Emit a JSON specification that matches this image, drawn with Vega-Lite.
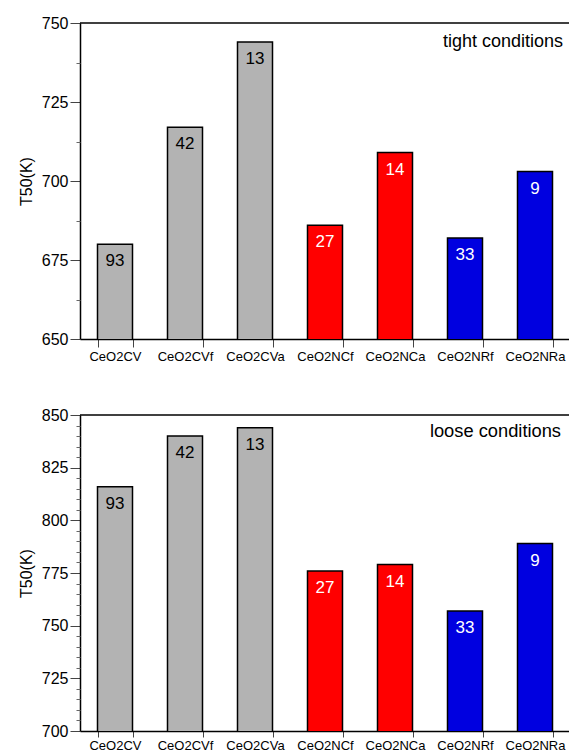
{
  "$schema": "https://vega.github.io/schema/vega-lite/v6.json",
  "padding": {"left": 18, "top": 15, "right": 0, "bottom": 0},
  "spacing": 44,
  "config": {
    "view": {"stroke": null},
    "font": "Liberation Sans",
    "axis": {"grid": false, "domainColor": "#000000", "domainWidth": 1.5, "tickColor": "#444444", "labelColor": "#000000", "titleColor": "#000000", "labelFont": "Liberation Sans", "titleFont": "Liberation Sans", "titleFontWeight": "normal"},
    "text": {"font": "Liberation Sans", "fontWeight": "normal"}
  },
  "data": {
    "values": [
      {"panel": "tight", "name": "CeO2CV", "group": "CV", "T50": 680, "n": 93},
      {"panel": "tight", "name": "CeO2CVf", "group": "CV", "T50": 717, "n": 42},
      {"panel": "tight", "name": "CeO2CVa", "group": "CV", "T50": 744, "n": 13},
      {"panel": "tight", "name": "CeO2NCf", "group": "NC", "T50": 686, "n": 27},
      {"panel": "tight", "name": "CeO2NCa", "group": "NC", "T50": 709, "n": 14},
      {"panel": "tight", "name": "CeO2NRf", "group": "NR", "T50": 682, "n": 33},
      {"panel": "tight", "name": "CeO2NRa", "group": "NR", "T50": 703, "n": 9},
      {"panel": "loose", "name": "CeO2CV", "group": "CV", "T50": 816, "n": 93},
      {"panel": "loose", "name": "CeO2CVf", "group": "CV", "T50": 840, "n": 42},
      {"panel": "loose", "name": "CeO2CVa", "group": "CV", "T50": 844, "n": 13},
      {"panel": "loose", "name": "CeO2NCf", "group": "NC", "T50": 776, "n": 27},
      {"panel": "loose", "name": "CeO2NCa", "group": "NC", "T50": 779, "n": 14},
      {"panel": "loose", "name": "CeO2NRf", "group": "NR", "T50": 757, "n": 33},
      {"panel": "loose", "name": "CeO2NRa", "group": "NR", "T50": 789, "n": 9}
    ]
  },
  "vconcat": [
    {
      "width": 490,
      "height": 316,
      "transform": [{"filter": "datum.panel === 'tight'"}],
      "resolve": {"axis": {"y": "independent"}},
      "layer": [
        {
          "mark": {"type": "bar", "stroke": "#000000", "strokeWidth": 1.5, "clip": true},
          "encoding": {
            "x": {"field": "name", "type": "nominal", "sort": null, "title": null,
                  "scale": {"paddingInner": 0.5, "paddingOuter": 0.25},
                  "axis": {"labelAngle": 0, "labelFontSize": 13, "tickBand": "extent", "tickSize": 8, "labelPadding": 3, "tickColor": "#444444"}},
            "y": {"field": "T50", "type": "quantitative", "title": "T50(K)",
                  "scale": {"domain": [650, 750], "nice": false, "zero": false},
                  "axis": {"values": [650, 675, 700, 725, 750], "tickSize": 10, "labelFontSize": 16, "labelPadding": 2, "titleFontSize": 16, "titlePadding": 7, "domain": true}},
            "color": {"field": "group", "type": "nominal", "legend": null,
                      "scale": {"domain": ["CV", "NC", "NR"], "range": ["#b3b3b3", "#ff0000", "#0000e0"]}}
          }
        },
        {
          "mark": {"type": "text", "baseline": "top", "dy": 9, "fontSize": 17, "fontWeight": "normal"},
          "encoding": {
            "x": {"field": "name", "type": "nominal", "sort": null},
            "y": {"field": "T50", "type": "quantitative", "axis": null},
            "text": {"field": "n", "type": "quantitative"},
            "color": {"condition": {"test": "datum.group === 'CV'", "value": "#000000"}, "value": "#ffffff"}
          }
        },
        {
          "data": {"values": [{"label": "tight conditions"}]},
          "mark": {"type": "rule", "color": "#000000", "strokeWidth": 1.5},
          "encoding": {
            "y": {"datum": 750, "type": "quantitative",
                  "axis": {"orient": "left", "values": [662.5, 687.5, 712.5, 737.5], "labels": false, "domain": false, "tickSize": 4, "title": null, "tickColor": "#666666"}}
          }
        },
        {
          "data": {"values": [{"label": "tight conditions"}]},
          "mark": {"type": "text", "align": "right", "baseline": "alphabetic", "dx": -7, "dy": 24, "fontSize": 18, "fontWeight": "normal"},
          "encoding": {
            "x": {"datum": "CeO2NRa", "bandPosition": 1.5},
            "y": {"datum": 750, "type": "quantitative", "axis": null},
            "text": {"field": "label"},
            "color": {"value": "#000000"}
          }
        }
      ]
    },
    {
      "width": 490,
      "height": 316,
      "transform": [{"filter": "datum.panel === 'loose'"}],
      "resolve": {"axis": {"y": "independent"}},
      "layer": [
        {
          "mark": {"type": "bar", "stroke": "#000000", "strokeWidth": 1.5, "clip": true},
          "encoding": {
            "x": {"field": "name", "type": "nominal", "sort": null, "title": null,
                  "scale": {"paddingInner": 0.5, "paddingOuter": 0.25},
                  "axis": {"labelAngle": 0, "labelFontSize": 13, "tickBand": "extent", "tickSize": 6, "labelPadding": 2, "tickColor": "#444444"}},
            "y": {"field": "T50", "type": "quantitative", "title": "T50(K)",
                  "scale": {"domain": [700, 850], "nice": false, "zero": false},
                  "axis": {"values": [700, 725, 750, 775, 800, 825, 850], "tickSize": 10, "labelFontSize": 16, "labelPadding": 2, "titleFontSize": 16, "titlePadding": 7, "domain": true}},
            "color": {"field": "group", "type": "nominal", "legend": null,
                      "scale": {"domain": ["CV", "NC", "NR"], "range": ["#b3b3b3", "#ff0000", "#0000e0"]}}
          }
        },
        {
          "mark": {"type": "text", "baseline": "top", "dy": 9, "fontSize": 17, "fontWeight": "normal"},
          "encoding": {
            "x": {"field": "name", "type": "nominal", "sort": null},
            "y": {"field": "T50", "type": "quantitative", "axis": null},
            "text": {"field": "n", "type": "quantitative"},
            "color": {"condition": {"test": "datum.group === 'CV'", "value": "#000000"}, "value": "#ffffff"}
          }
        },
        {
          "data": {"values": [{"label": "loose conditions"}]},
          "mark": {"type": "rule", "color": "#000000", "strokeWidth": 1.5},
          "encoding": {
            "y": {"datum": 850, "type": "quantitative",
                  "axis": {"orient": "left", "values": [705, 710, 715, 720, 730, 735, 740, 745, 755, 760, 765, 770, 780, 785, 790, 795, 805, 810, 815, 820, 830, 835, 840, 845], "labels": false, "domain": false, "tickSize": 4, "title": null, "tickColor": "#666666"}}
          }
        },
        {
          "data": {"values": [{"label": "loose conditions"}]},
          "mark": {"type": "text", "align": "right", "baseline": "alphabetic", "dx": -9, "dy": 22, "fontSize": 18.3, "fontWeight": "normal"},
          "encoding": {
            "x": {"datum": "CeO2NRa", "bandPosition": 1.5},
            "y": {"datum": 850, "type": "quantitative", "axis": null},
            "text": {"field": "label"},
            "color": {"value": "#000000"}
          }
        }
      ]
    }
  ]
}
